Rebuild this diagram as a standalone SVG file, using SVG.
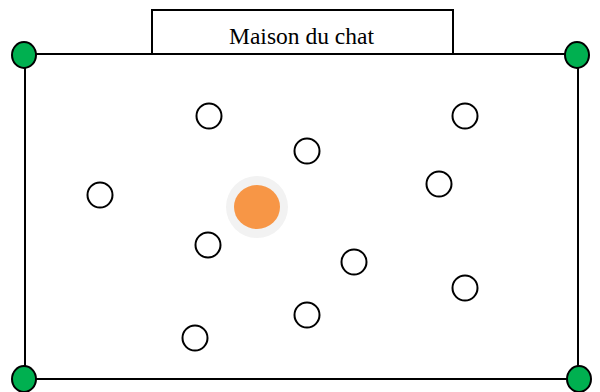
<svg xmlns="http://www.w3.org/2000/svg" width="600" height="392" viewBox="0 0 600 392">
  <style>
    .frame { fill: none; stroke: #000; stroke-width: 2; }
    .title-box { fill: #fff; stroke: #000; stroke-width: 2; }
    .title { font-family: "Liberation Serif", serif; font-size: 23.5px; fill: #000; }
    .post { fill: #00b050; stroke: #000; stroke-width: 2; }
    .spot { fill: #fff; stroke: #000; stroke-width: 2; }
    .halo { fill: #f2f2f2; }
    .cat { fill: #f79646; }
  </style>
  <rect width="600" height="392" fill="#fff"/>

  <!-- enclosure outline -->
  <g id="enclosure">
    <rect class="frame" x="25" y="54" width="553" height="325"/>
  </g>

  <!-- label box on top edge -->
  <g id="title">
    <rect class="title-box" x="152" y="10" width="301" height="44"/>
    <text class="title" x="301.5" y="43.5" text-anchor="middle">Maison du chat</text>
  </g>

  <!-- corner posts -->
  <g id="post-tl"><ellipse class="post" cx="24" cy="55" rx="12" ry="13"/></g>
  <g id="post-tr"><ellipse class="post" cx="577" cy="55" rx="12" ry="13"/></g>
  <g id="post-bl"><ellipse class="post" cx="24" cy="379" rx="12" ry="13"/></g>
  <g id="post-br"><ellipse class="post" cx="579" cy="379" rx="12" ry="13"/></g>

  <!-- empty spots -->
  <g id="spot-1"><circle class="spot" cx="209" cy="116" r="12.5"/></g>
  <g id="spot-2"><circle class="spot" cx="307" cy="151" r="12.5"/></g>
  <g id="spot-3"><circle class="spot" cx="465" cy="116" r="12.5"/></g>
  <g id="spot-4"><circle class="spot" cx="100" cy="195" r="12.5"/></g>
  <g id="spot-5"><circle class="spot" cx="439" cy="184" r="12.5"/></g>
  <g id="spot-6"><circle class="spot" cx="208" cy="245" r="12.5"/></g>
  <g id="spot-7"><circle class="spot" cx="354" cy="262" r="12.5"/></g>
  <g id="spot-8"><circle class="spot" cx="465" cy="288" r="12.5"/></g>
  <g id="spot-9"><circle class="spot" cx="307" cy="315" r="12.5"/></g>
  <g id="spot-10"><circle class="spot" cx="195" cy="338" r="12.5"/></g>

  <!-- cat -->
  <g id="cat">
    <circle class="halo" cx="257" cy="207" r="31"/>
    <ellipse class="cat" cx="257" cy="207" rx="23" ry="22"/>
  </g>
</svg>
